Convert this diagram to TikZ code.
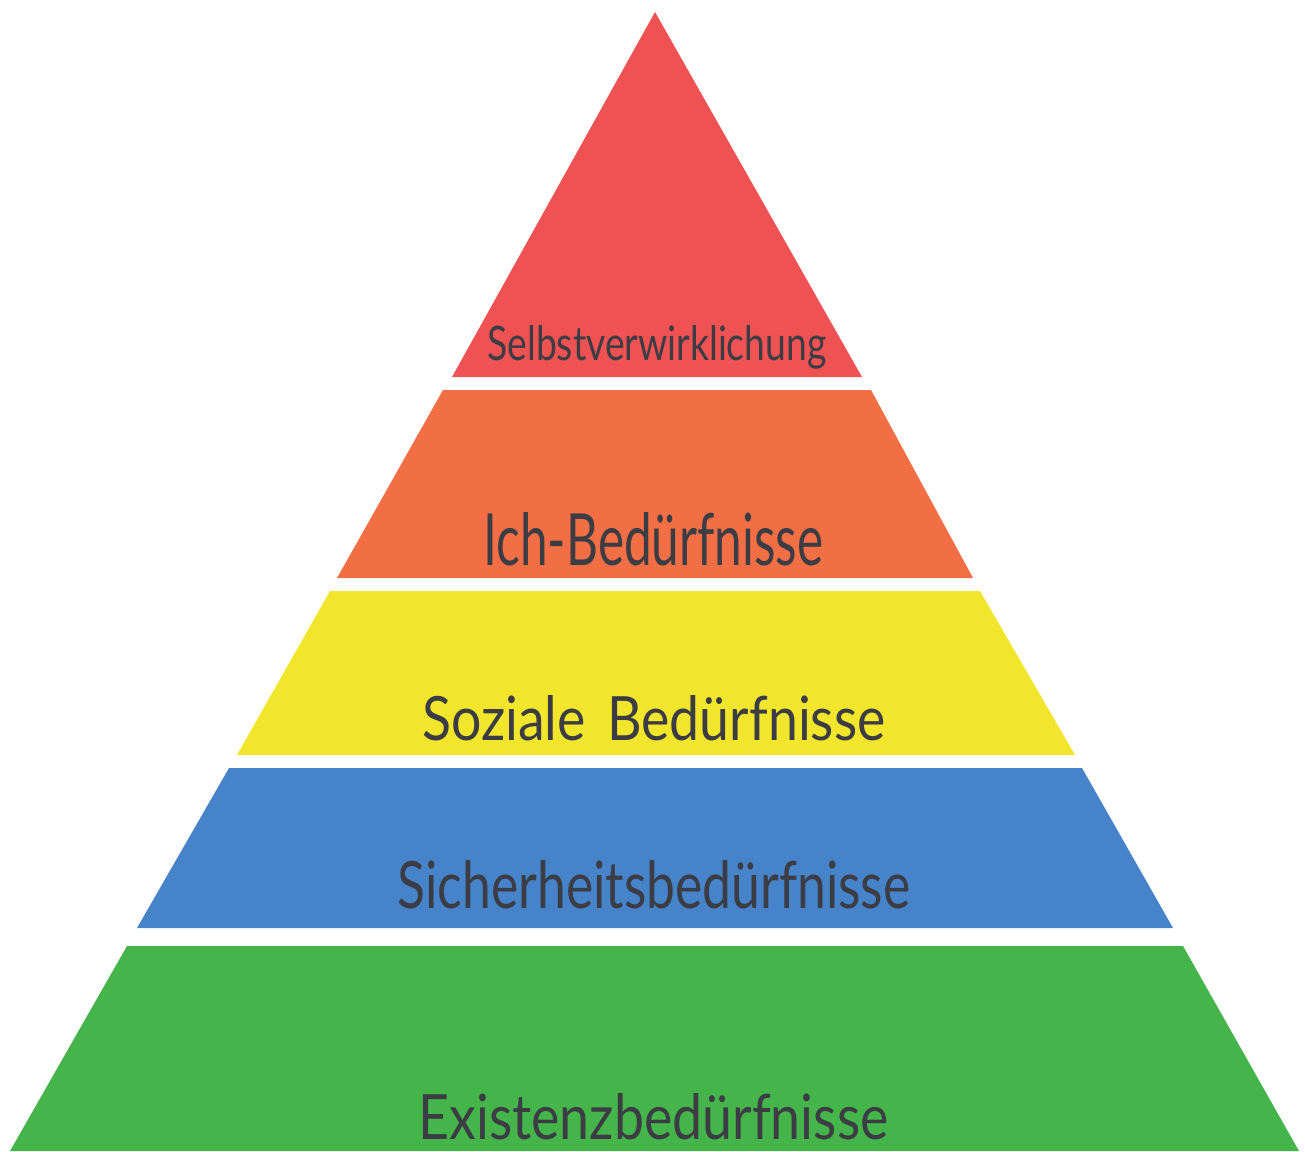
\documentclass[tikz,border=0pt]{standalone}
\usepackage{fontspec}
\setmainfont{Lato}
\usepackage{graphicx}
\definecolor{cred}{HTML}{EF5252}
\definecolor{corange}{HTML}{F26F45}
\definecolor{cyellow}{HTML}{F2E62C}
\definecolor{cblue}{HTML}{4683C8}
\definecolor{cgreen}{HTML}{45B54B}
\definecolor{ctext}{HTML}{3C3C44}
\tikzset{
  band/.style={draw=none},
  lbl/.style={anchor=base west, inner sep=0pt, text=ctext}
}
\newcommand{\fitlbl}[3]{\resizebox{#1pt}{#2pt}{#3}}
\begin{document}
\begin{tikzpicture}[x=0.5pt,y=-0.5pt]
\path[fill=white] (0,0) rectangle (1305,1151);
\useasboundingbox (0,0) rectangle (1305,1151);
\fill[cred,band] (655,12) -- (862,377) -- (452,377) -- cycle;
\fill[corange,band] (443,390) -- (871,390) -- (973,578) -- (337,578) -- cycle;
\fill[cyellow,band] (330,591) -- (980,591) -- (1075,755) -- (237,755) -- cycle;
\fill[cblue,band] (229,768) -- (1082,768) -- (1173,928) -- (137,928) -- cycle;
\fill[cgreen,band] (127,946) -- (1183,946) -- (1299,1151) -- (10,1151) -- cycle;
\node[lbl] (t1) at (487,360) {\fitlbl{169.5}{17.5}{Selbstverwirklichung}};
\node[lbl] (t2) at (483,565) {\fitlbl{170}{26.5}{Ich-Bedürfnisse}};
\node[lbl] (t3) at (422,740) {\fitlbl{231.5}{22.5}{Soziale\hspace{0.4em}Bedürfnisse}};
\node[lbl] (t4) at (397,908) {\fitlbl{256.5}{24}{Sicherheitsbedürfnisse}};
\node[lbl] (t5) at (418,1139) {\fitlbl{235}{23}{Existenzbedürfnisse}};
\end{tikzpicture}
\end{document}
